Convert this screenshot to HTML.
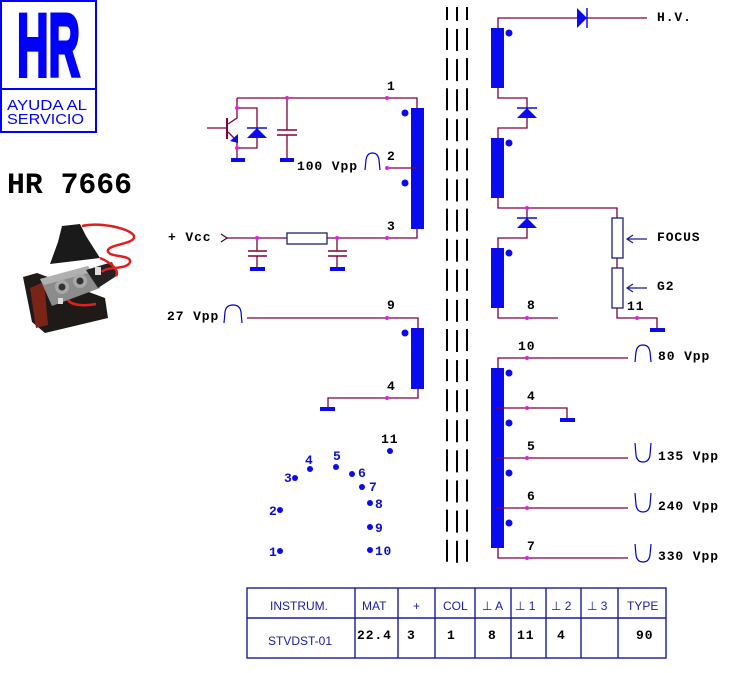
<!DOCTYPE html>
<html><head><meta charset="utf-8"><style>
html,body{margin:0;padding:0;background:#fff;}
svg{display:block;}
.t{font-family:"Liberation Mono",monospace;font-weight:bold;font-size:13px;letter-spacing:0.9px;fill:#000;}
.b{font-family:"Liberation Mono",monospace;font-weight:bold;font-size:13px;letter-spacing:0.7px;fill:#1010c0;}
.s{font-family:"Liberation Sans","DejaVu Sans",sans-serif;font-size:12px;fill:#1a1aa0;}
.w{fill:none;stroke:#800040;stroke-width:1.3;}
.p{fill:none;stroke:#0000c8;stroke-width:1.2;}
</style></head><body>
<svg width="734" height="673" viewBox="0 0 734 673" xmlns="http://www.w3.org/2000/svg">
<rect width="734" height="673" fill="#fff"/>

<!-- Logo -->
<rect x="1" y="1" width="95" height="131" fill="none" stroke="#0000ff" stroke-width="2"/>
<line x1="1" y1="89" x2="96" y2="89" stroke="#0000ff" stroke-width="2"/>
<text x="17" y="76" font-family="Liberation Sans, sans-serif" font-weight="bold" font-size="89" fill="#0000ff" stroke="#0000ff" stroke-width="4" stroke-linejoin="miter" textLength="63" lengthAdjust="spacingAndGlyphs">HR</text>
<text x="7" y="110" font-family="Liberation Sans, sans-serif" font-size="15" fill="#0000ff" textLength="80" lengthAdjust="spacingAndGlyphs">AYUDA AL</text>
<text x="7" y="124" font-family="Liberation Sans, sans-serif" font-size="15" fill="#0000ff" textLength="77" lengthAdjust="spacingAndGlyphs">SERVICIO</text>
<text x="7" y="193" font-family="Liberation Mono, monospace" font-weight="bold" font-size="30" fill="#000" textLength="125" lengthAdjust="spacingAndGlyphs">HR 7666</text>

<!-- Photo approximation -->
<g>
<polygon points="23,277 37,273 105,298 108,318 45,333 32,322" fill="#1e1a18"/>
<polygon points="30,288 44,282 48,325 36,328" fill="#7a2418"/>
<polygon points="40,279 88,266 100,288 52,306" fill="#8c8c8c"/>
<polygon points="40,279 88,266 92,272 44,285" fill="#b0b0b0"/>
<circle cx="62" cy="287" r="7" fill="#a8a8a8"/><circle cx="62" cy="287" r="3.5" fill="#333"/>
<circle cx="80" cy="281" r="7" fill="#a8a8a8"/><circle cx="80" cy="281" r="3.5" fill="#333"/>
<polygon points="86,270 112,262 118,275 98,288" fill="#222"/>
<polygon points="62,226 80,224 86,236 100,258 50,264 58,242" fill="#1a1a1a"/>
<path d="M82,226 C100,222 130,228 134,236 C136,244 110,244 108,250 C106,258 132,254 130,262 C128,270 106,266 102,272 M100,258 C110,262 120,270 116,276 M96,304 C86,306 72,306 68,300" fill="none" stroke="#e02020" stroke-width="2.5"/>
<rect x="95" y="267" width="6" height="8" fill="#ddd"/>
<rect x="58" y="298" width="5" height="6" fill="#ddd"/>
</g>

<!-- Core dashed lines -->
<g stroke="#000" stroke-width="2">
<line x1="447" y1="7" x2="447" y2="20"/><line x1="457" y1="7" x2="457" y2="21"/><line x1="467" y1="7" x2="467" y2="20"/>
<line x1="447" y1="28" x2="447" y2="564" stroke-dasharray="22 8.1"/>
<line x1="457" y1="29" x2="457" y2="564" stroke-dasharray="22 8.1"/>
<line x1="467" y1="28" x2="467" y2="564" stroke-dasharray="22 8.1"/>
</g>

<!-- Blue winding bars -->
<g fill="#0a0aee">
<rect x="411" y="108" width="13" height="121"/>
<rect x="411" y="328" width="13" height="61"/>
<rect x="491" y="28" width="13" height="60"/>
<rect x="491" y="138" width="13" height="60"/>
<rect x="491" y="248" width="13" height="60"/>
<rect x="491" y="368" width="13" height="180"/>
</g>

<!-- Wires -->
<g class="w">
<path d="M237,98 H417 V108"/>
<path d="M237,98 V118 L228,124"/>
<path d="M228,132 L237,141 V160"/>
<path d="M237,108 H257 V148 H237"/>
<path d="M287,98 V130 M287,135 V160"/>
<path d="M207,128 H227"/>
<path d="M227,118 V139" stroke-width="2"/>
<path d="M277,130 H297 M277,135 H297" stroke-width="1.6"/>
<path d="M387,168 H417"/>
<path d="M227,238 H417 V229"/>
<path d="M257,238 V251 M257,256 V269 M337,238 V251 M337,256 V269"/>
<path d="M248,251 H267 M248,256 H267 M328,251 H347 M328,256 H347" stroke-width="1.6"/>
<path d="M247,318 H418 V328"/>
<path d="M418,389 V398 H328 V409"/>
<path d="M498,28 V18 H647"/>
<path d="M498,88 V98 H527 V128 H498 V138"/>
<path d="M498,198 V208 H617 V218"/>
<path d="M527,208 V238 H498 V248"/>
<path d="M617,258 V268 M617,308 V318 H657 V328"/>
<path d="M498,308 V318 H558"/>
<path d="M498,368 V358 H628"/>
<path d="M496,408 H567 V419"/>
<path d="M496,458 H628"/>
<path d="M496,508 H628"/>
<path d="M498,548 V558 H628"/>
</g>

<!-- Vcc arrow -->
<path d="M221,234 L227,238 L221,242" fill="none" stroke="#400030" stroke-width="1.2"/>

<!-- Resistors -->
<rect x="287" y="233" width="40" height="11" fill="#fff" stroke="#202070" stroke-width="1.3"/>
<rect x="612" y="218" width="11" height="40" fill="#fff" stroke="#202070" stroke-width="1.3"/>
<rect x="612" y="268" width="11" height="40" fill="#fff" stroke="#202070" stroke-width="1.3"/>

<!-- Focus / G2 arrows -->
<g fill="none" stroke="#1a1a90" stroke-width="1.2">
<path d="M627,239 H647 M633,235 L627,239 L633,243"/>
<path d="M627,288 H647 M633,284 L627,288 L633,292"/>
</g>

<!-- Diodes and transistor parts (blue) -->
<g fill="#0a0aee" stroke="#0a0aee">
<polygon points="247,138 267,138 257,128" stroke="none"/>
<line x1="247" y1="128" x2="267" y2="128" stroke-width="1.5"/>
<polygon points="230,141 238,134 238,143" stroke="none"/>
<polygon points="577,8 577,28 587,18" stroke="none"/>
<line x1="587" y1="8" x2="587" y2="28" stroke-width="1.5"/>
<polygon points="517,118 537,118 527,108" stroke="none"/>
<line x1="517" y1="108" x2="537" y2="108" stroke-width="1.5"/>
<polygon points="517,228 537,228 527,218" stroke="none"/>
<line x1="517" y1="218" x2="537" y2="218" stroke-width="1.5"/>
</g>

<!-- Ground bars -->
<g fill="#0a0aee">
<rect x="231" y="158" width="14" height="4"/>
<rect x="280" y="158" width="14" height="4"/>
<rect x="250" y="267" width="15" height="4"/>
<rect x="330" y="267" width="15" height="4"/>
<rect x="320" y="407" width="15" height="4"/>
<rect x="650" y="328" width="15" height="4"/>
<rect x="560" y="418" width="15" height="4"/>
</g>

<!-- Winding polarity dots -->
<g fill="#0a0aee">
<circle cx="405" cy="113" r="3.5"/><circle cx="405" cy="183" r="3.5"/><circle cx="405" cy="333" r="3.5"/>
<circle cx="509" cy="33" r="3.5"/><circle cx="509" cy="143" r="3.5"/><circle cx="509" cy="253" r="3.5"/>
<circle cx="509" cy="373" r="3.5"/><circle cx="509" cy="423" r="3.5"/><circle cx="509" cy="473" r="3.5"/><circle cx="509" cy="523" r="3.5"/>
</g>

<!-- Junction dots -->
<g fill="#e020e0">
<circle cx="287" cy="98" r="2"/><circle cx="237" cy="108" r="2"/><circle cx="237" cy="148" r="2"/>
<circle cx="387" cy="98" r="2"/><circle cx="387" cy="168" r="2"/><circle cx="387" cy="238" r="2"/>
<circle cx="257" cy="238" r="2"/><circle cx="337" cy="238" r="2"/>
<circle cx="387" cy="318" r="2"/><circle cx="387" cy="398" r="2"/>
<circle cx="527" cy="208" r="2"/><circle cx="527" cy="318" r="2"/><circle cx="637" cy="318" r="2"/>
<circle cx="527" cy="358" r="2"/><circle cx="527" cy="408" r="2"/><circle cx="527" cy="458" r="2"/>
<circle cx="527" cy="508" r="2"/><circle cx="527" cy="558" r="2"/>
</g>

<!-- Pulse symbols -->
<path class="p" d="M365,170 L366,160 Q367,153 372.5,153 Q378,153 379,160 L380,170"/>
<path class="p" d="M224,323 L225,312 Q226,305 233,305 Q240,305 241,312 L242,323"/>
<path class="p" d="M635,362 L636,352 Q637,345 643,345 Q649,345 650,352 L651,362"/>
<path class="p" d="M635,443 L636,455 Q637,462 643,462 Q649,462 650,455 L651,443"/>
<path class="p" d="M635,493 L636,505 Q637,512 643,512 Q649,512 650,505 L651,493"/>
<path class="p" d="M635,544 L636,555 Q637,562 643,562 Q649,562 650,555 L651,544"/>

<!-- Labels -->
<text class="t" x="387" y="90">1</text>
<text class="t" x="387" y="160">2</text>
<text class="t" x="387" y="230">3</text>
<text class="t" x="297" y="170">100 Vpp</text>
<text class="t" x="168" y="241">+ Vcc</text>
<text class="t" x="167" y="320">27 Vpp</text>
<text class="t" x="387" y="309">9</text>
<text class="t" x="387" y="390">4</text>
<text class="t" x="657" y="21">H.V.</text>
<text class="t" x="657" y="241">FOCUS</text>
<text class="t" x="657" y="290">G2</text>
<text class="t" x="527" y="309">8</text>
<text class="t" x="627" y="310">11</text>
<text class="t" x="518" y="350">10</text>
<text class="t" x="527" y="400">4</text>
<text class="t" x="527" y="450">5</text>
<text class="t" x="527" y="500">6</text>
<text class="t" x="527" y="550">7</text>
<text class="t" x="658" y="360">80 Vpp</text>
<text class="t" x="658" y="460">135 Vpp</text>
<text class="t" x="658" y="510">240 Vpp</text>
<text class="t" x="658" y="560">330 Vpp</text>

<!-- Pin layout -->
<g fill="#0a0aee">
<circle cx="390" cy="451" r="3"/><circle cx="336" cy="467" r="3"/><circle cx="310" cy="469" r="3"/>
<circle cx="295" cy="478" r="3"/><circle cx="352" cy="474" r="3"/><circle cx="362" cy="487" r="3"/>
<circle cx="370" cy="503" r="3"/><circle cx="370" cy="527" r="3"/><circle cx="370" cy="550" r="3"/>
<circle cx="280" cy="510" r="3"/><circle cx="280" cy="551" r="3"/>
</g>
<text class="t" x="381" y="443">11</text>
<text class="b" x="333" y="460">5</text>
<text class="b" x="305" y="464">4</text>
<text class="b" x="284" y="482">3</text>
<text class="b" x="358" y="477">6</text>
<text class="b" x="369" y="491">7</text>
<text class="b" x="375" y="508">8</text>
<text class="b" x="375" y="532">9</text>
<text class="b" x="375" y="555">10</text>
<text class="b" x="269" y="515">2</text>
<text class="b" x="269" y="556">1</text>

<!-- Table -->
<g fill="none" stroke="#1a1aa0" stroke-width="1.4">
<rect x="247" y="588" width="419" height="70"/>
<line x1="247" y1="618" x2="666" y2="618"/>
<line x1="355" y1="588" x2="355" y2="658"/>
<line x1="398" y1="588" x2="398" y2="658"/>
<line x1="435" y1="588" x2="435" y2="658"/>
<line x1="475" y1="588" x2="475" y2="658"/>
<line x1="511" y1="588" x2="511" y2="658"/>
<line x1="546" y1="588" x2="546" y2="658"/>
<line x1="581" y1="588" x2="581" y2="658"/>
<line x1="618" y1="588" x2="618" y2="658"/>
</g>
<text class="s" x="270" y="610">INSTRUM.</text>
<text class="s" x="362" y="610">MAT</text>
<text class="s" x="413" y="610">+</text>
<text class="s" x="443" y="610">COL</text>
<text class="s" x="482" y="610">⊥ A</text>
<text class="s" x="515" y="610">⊥ 1</text>
<text class="s" x="551" y="610">⊥ 2</text>
<text class="s" x="587" y="610">⊥ 3</text>
<text class="s" x="627" y="610">TYPE</text>
<text class="s" x="268" y="645">STVDST-01</text>
<text class="t" x="357" y="639">22.4</text>
<text class="t" x="407" y="639">3</text>
<text class="t" x="447" y="639">1</text>
<text class="t" x="488" y="639">8</text>
<text class="t" x="517" y="639">11</text>
<text class="t" x="557" y="639">4</text>
<text class="t" x="636" y="639">90</text>
</svg>
</body></html>
